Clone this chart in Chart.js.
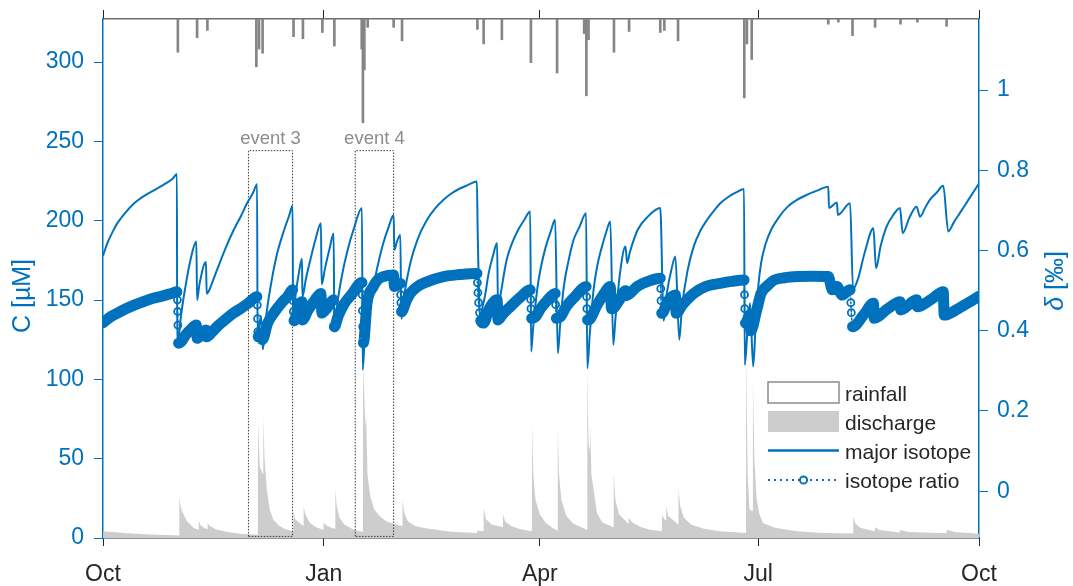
<!DOCTYPE html>
<html>
<head>
<meta charset="utf-8">
<title>Isotope record</title>
<script src="https://cdn.jsdelivr.net/npm/chart.js@4.4.1/dist/chart.umd.min.js"></script>
<style>
  html, body { margin: 0; padding: 0; background: #fff; }
  #wrap { width: 1073px; height: 586px; }
</style>
</head>
<body>
<div id="wrap"><canvas id="myChart" width="1073" height="586"></canvas></div>
<script>
// x values are days after 1 Oct
const xTickDays = [0, 92, 182, 273, 365];
const xTickLabels = ["Oct", "Jan", "Apr", "Jul", "Oct"];
const cTicks = [0, 50, 100, 150, 200, 250, 300];
const deltaTicks = [0, 0.2, 0.4, 0.6, 0.8, 1];

// rainfall, mm (hangs from the top)
const rainDays = [31.2, 39.2, 43.5, 63.9, 65.0, 66.5, 79.4, 83.3, 91.4, 96.4, 107.8, 108.3, 108.9, 110.3, 121.1, 124.6, 156.0, 158.6, 166.2, 178.3, 189.2, 200.5, 201.4, 202.3, 212.9, 219.2, 232.2, 233.9, 239.6, 267.2, 268.3, 270.3, 302.2, 306.4, 312.3, 321.7, 332.3, 339.3, 351.5];
const rainMm = [3.2, 1.8, 1.1, 4.6, 2.9, 3.3, 1.7, 1.9, 1.3, 2.6, 2.9, 10.0, 4.9, 0.8, 0.8, 2.1, 1.0, 2.4, 2.0, 4.2, 5.2, 1.4, 7.4, 2.0, 3.2, 1.2, 1.3, 1.1, 2.1, 7.6, 2.4, 3.9, 0.5, 0.3, 1.6, 0.8, 0.5, 0.3, 0.7];

// discharge
const qDays = [0, 10, 20, 31.7, 31.8, 32.3, 32.9, 35, 37.8, 39.8, 39.9, 40.6, 42.5, 43.5, 43.6, 44.5, 47, 52, 58, 64.5, 64.6, 65.3, 66.7, 66.8, 67.3, 68.3, 69.5, 71, 73.5, 76, 79.3, 79.4, 80, 83.5, 83.6, 84.3, 86, 88.5, 91.8, 91.9, 93, 95.4, 96.7, 96.8, 97.4, 98.5, 100.5, 104.5, 108.3, 108.4, 109.2, 109.5, 109.6, 110.2, 111.4, 113, 115.5, 118, 121, 124.7, 124.8, 125.5, 127, 130, 135, 145, 155.8, 155.9, 158.5, 158.6, 159.5, 162, 166.6, 166.7, 167.5, 170, 174, 178.7, 178.8, 179.3, 180.2, 182, 184.5, 187.8, 189.4, 189.5, 190, 191, 193, 196, 201.7, 201.8, 202.3, 202.9, 203, 203.5, 205.8, 208, 212.7, 212.8, 213.5, 215, 218.9, 219, 220.5, 224, 228, 232.8, 232.9, 233.8, 234.6, 234.7, 235.5, 239.7, 239.8, 240.5, 242, 245, 250, 257, 267.9, 268, 268.6, 269.4, 270.7, 270.8, 271.4, 272.3, 273.5, 275, 280, 289, 300, 312.5, 312.6, 313.3, 315.5, 321.6, 321.7, 323.5, 331.9, 332, 336, 351.4, 351.5, 355, 365];
const qVal = [4.2, 3.0, 2.2, 1.5, 25.6, 20, 16.8, 10.5, 6.3, 5.2, 10.9, 8, 6, 5.6, 9.4, 7.5, 5.5, 3.8, 2.6, 2.0, 73, 45, 40, 78, 50, 30, 18, 11.5, 7.5, 5.5, 4.2, 16.8, 12, 7.5, 19.9, 15, 10, 7, 5.2, 9.8, 8, 6.3, 5.8, 30.9, 20, 13, 8.5, 5.2, 3.8, 112, 75, 70, 80.8, 40, 26, 18, 13.6, 10.5, 9, 7.5, 24.1, 16, 10.5, 7.5, 6, 4, 3.2, 4.5, 4.3, 18.9, 12, 8.5, 6.8, 15, 10.5, 7.5, 5.5, 4.2, 70.8, 40, 24, 15, 9.5, 5.8, 4.8, 69.5, 40, 24, 14, 9, 5.2, 110, 60, 55, 71.4, 40, 15.7, 10, 6.8, 41, 24, 15, 9, 12.6, 10, 7, 5.2, 4.2, 14.7, 12, 11, 19.9, 14, 8.5, 31, 20, 13, 8.5, 6, 4.3, 3.2, 118, 40, 17.8, 17, 98.7, 50, 25, 15, 9.4, 6.5, 4.2, 3.2, 2.8, 13.6, 9.5, 6.5, 4.2, 6.7, 5, 3.5, 5, 3.8, 3, 5.2, 3.8, 2.7];

// major isotope, C in uM
const majorDays = [0, 2, 4, 6, 9, 13, 17, 21, 25, 29, 30.8, 30.9, 31.4, 32.5, 34.3, 36.4, 38.9, 39.2, 40.2, 42.9, 43.2, 44.2, 45.5, 47.5, 51, 54.4, 57.5, 60, 62.5, 64.2, 64.4, 65.8, 66.6, 68, 70, 72.5, 75, 77.5, 79, 79.2, 80, 81.5, 82.9, 83.1, 84.5, 86.5, 88.5, 90.8, 91.1, 92.5, 94.5, 96.1, 96.4, 97.5, 99.5, 102, 104.5, 107.9, 108.2, 109, 110.5, 112.6, 114.5, 116.8, 119, 121.1, 121.4, 122.5, 123.9, 124.3, 125.5, 128, 131, 135, 138.5, 141.9, 145, 148.9, 152, 155.8, 156.1, 157.2, 158.2, 159.2, 160.7, 162.5, 164.2, 164.6, 165.5, 168.2, 170.5, 173, 175.5, 178, 178.4, 179.2, 180.9, 182.5, 184.5, 186.5, 188.4, 189.5, 190.5, 192, 194, 196.1, 198.5, 201.3, 201.8, 202.8, 204.4, 206, 207.9, 209.5, 211.4, 212.6, 213.5, 215.5, 217.7, 218.4, 219.5, 222.8, 227, 232.2, 233.6, 235, 236.8, 238.5, 240.1, 241.2, 243.5, 246.1, 249, 251.7, 254.3, 257.2, 260.5, 264, 267.1, 267.4, 268.5, 269.6, 270.9, 271.8, 273, 274.2, 276, 278.4, 281.5, 285.3, 289, 293.2, 297.5, 302.2, 302.5, 305.8, 306.2, 311.3, 312.5, 314.5, 317.5, 321, 322.1, 324, 326.5, 329, 332.1, 333.2, 336, 339, 340.4, 342.5, 344.5, 347.5, 350.1, 352.2, 354.5, 357, 360.5, 365];
const majorC = [178, 186.5, 193, 198.5, 204.5, 211, 215.5, 219, 222.5, 226.5, 229.5, 121, 124, 140, 158, 175, 187, 150, 160, 174, 154, 156, 161, 169, 182.5, 194, 203, 211, 217.5, 223, 127, 140, 119, 140, 160, 179, 192, 203, 209.4, 134, 150, 166, 176, 152, 163, 176, 188, 198.5, 160, 170, 183, 192, 130, 146, 165, 182, 195, 208, 106, 125, 145, 158.5, 172, 186, 196, 203.7, 181.7, 187, 191, 138, 153, 173, 188, 200.6, 208, 213.2, 217, 220.5, 222.5, 224.7, 195, 138, 146, 153, 167, 178, 186, 144, 152, 175.4, 186, 194.3, 200.5, 205.8, 117.6, 132, 156.5, 171, 183.7, 193, 200.6, 116.6, 135, 158.5, 175, 188, 196, 204.8, 107.1, 128, 156.5, 172, 183.7, 192, 199.5, 121.8, 138, 168, 183.7, 173.3, 180, 194.3, 202.6, 208, 137, 155, 169, 177.4, 125, 145, 168, 183.7, 194, 200.6, 205.8, 211, 215, 218, 220, 109.2, 130, 148, 108.1, 130, 158, 173.3, 185, 194.3, 202, 208.9, 213, 216.3, 219, 221.5, 208, 211.5, 203.7, 211.1, 157, 163, 180.6, 195.3, 170.1, 184, 196.3, 203, 208, 192.2, 202, 208.9, 202.6, 208, 213.2, 218, 222, 193.2, 199, 204.8, 213, 223.5];

// isotope ratio, delta in permil
const ratioDays = [0, 3, 6, 9.5, 13, 17, 21, 25, 28.5, 30.8, 31.0, 31.1, 31.2, 31.5, 32.5, 34.5, 36.5, 38.9, 39.2, 41, 42.9, 43.2, 45.5, 47.5, 51, 54.4, 58, 61, 64.1, 64.3, 64.4, 64.5, 64.7, 65.8, 66.4, 68.6, 71.5, 74.2, 77, 79.0, 79.2, 79.3, 79.6, 81, 82.9, 83.1, 85.5, 88, 90.8, 91.0, 91.2, 93.5, 96.1, 96.4, 98, 100.5, 103.5, 107.9, 108.0, 108.1, 108.2, 108.5, 110, 112.6, 114.5, 116.8, 121.1, 121.4, 123.9, 124.0, 124.1, 124.4, 126.3, 128, 131, 135, 141.9, 148.5, 155.8, 156.0, 156.2, 156.5, 156.9, 157.4, 158.6, 160.7, 164.2, 164.6, 166.5, 169.7, 174, 178, 178.2, 178.3, 178.6, 180.1, 182.3, 185, 188.4, 188.6, 188.9, 190.5, 193, 196.5, 201.3, 201.5, 201.6, 201.9, 203, 205.5, 208.5, 211.4, 211.6, 211.9, 213, 215.5, 217.7, 218.1, 222.5, 227, 232.2, 232.4, 232.5, 232.8, 235.5, 238.5, 238.8, 241.5, 246.1, 251, 257.2, 262, 267.1, 267.3, 267.4, 267.7, 269.6, 269.9, 272.5, 274.2, 277, 279.7, 284, 289.4, 296, 302.2, 303.9, 305.8, 308, 311.3, 311.6, 311.8, 312.3, 317, 321, 321.4, 327, 332.1, 332.4, 339, 339.3, 345, 350.1, 350.5, 355.5, 358.9, 362, 365];
const ratioDelta = [0.420, 0.434, 0.444, 0.455, 0.464, 0.473, 0.481, 0.487, 0.493, 0.497, 0.477, 0.448, 0.414, 0.369, 0.372, 0.390, 0.403, 0.414, 0.381, 0.390, 0.402, 0.385, 0.397, 0.410, 0.428, 0.444, 0.458, 0.471, 0.485, 0.464, 0.430, 0.398, 0.385, 0.395, 0.378, 0.419, 0.447, 0.468, 0.486, 0.502, 0.475, 0.448, 0.425, 0.448, 0.4725, 0.427, 0.452, 0.474, 0.493, 0.470, 0.444, 0.458, 0.477, 0.410, 0.437, 0.467, 0.490, 0.520, 0.490, 0.450, 0.410, 0.370, 0.4686, 0.510, 0.527, 0.535, 0.539, 0.510, 0.518, 0.490, 0.470, 0.4476, 0.474, 0.493, 0.510, 0.522, 0.535, 0.540, 0.543, 0.520, 0.495, 0.470, 0.445, 0.425, 0.419, 0.452, 0.477, 0.427, 0.441, 0.460, 0.484, 0.502, 0.478, 0.455, 0.431, 0.434, 0.455, 0.475, 0.493, 0.465, 0.431, 0.434, 0.460, 0.484, 0.510, 0.485, 0.455, 0.427, 0.430, 0.460, 0.490, 0.510, 0.480, 0.455, 0.458, 0.480, 0.500, 0.488, 0.510, 0.523, 0.531, 0.505, 0.475, 0.4436, 0.475, 0.489, 0.4436, 0.465, 0.493, 0.510, 0.518, 0.523, 0.5265, 0.490, 0.455, 0.419, 0.440, 0.400, 0.455, 0.493, 0.513, 0.5265, 0.532, 0.535, 0.536, 0.535, 0.502, 0.510, 0.489, 0.502, 0.470, 0.445, 0.410, 0.440, 0.4686, 0.431, 0.455, 0.4725, 0.452, 0.477, 0.460, 0.478, 0.497, 0.439, 0.452, 0.464, 0.475, 0.486];

// dotted event windows
const eventLabels = ["event 3", "event 4"];
const eventStart = [60.6, 105.1];
const eventEnd = [79.0, 121.1];
const eventTop = 244.2;
const eventBottom = 1.0;

const blue = "#0072BD";
const font = '"Liberation Sans", Arial, Helvetica, sans-serif';

const xy = (xs, ys) => xs.map((x, i) => ({ x: x, y: ys[i] }));

// big, fast falls of the ratio show up as separate circles on a thin dotted line
function thinFalls(days, vals, maxStep, minFall) {
  const thin = new Array(days.length).fill(false);
  let i = 0;
  while (i < days.length - 1) {
    let j = i;
    while (j < days.length - 1 && days[j + 1] - days[j] < maxStep && vals[j + 1] < vals[j]) j++;
    if (j > i) {
      if (vals[i] - vals[j] > minFall) {
        for (let k = i; k < j; k++) thin[k] = true;
      }
      i = j;
    } else {
      i++;
    }
  }
  return thin;
}
const ratioThin = thinFalls(ratioDays, ratioDelta, 0.55, 0.06);

const overlay = {
  id: "overlay",
  afterDraw(chart) {
    const { ctx, scales } = chart;
    const sx = scales.x;
    const sy = scales.y;
    ctx.save();

    // event labels
    ctx.font = "18.5px " + font;
    ctx.fillStyle = "#8c8c8c";
    ctx.textAlign = "center";
    ctx.textBaseline = "alphabetic";
    eventLabels.forEach((t, i) => {
      const cx = sx.getPixelForValue((eventStart[i] + eventEnd[i]) / 2);
      ctx.fillText(t, cx, sy.getPixelForValue(eventTop) - 7);
    });

    // left title
    ctx.save();
    ctx.translate(23.5, 296);
    ctx.rotate(-Math.PI / 2);
    ctx.font = "25px " + font;
    ctx.fillStyle = blue;
    ctx.textAlign = "center";
    ctx.textBaseline = "middle";
    ctx.fillText("C [µM]", 0, 0);
    ctx.restore();

    // right title, italic delta
    ctx.save();
    ctx.translate(1056, 281);
    ctx.rotate(-Math.PI / 2);
    ctx.fillStyle = blue;
    ctx.textBaseline = "middle";
    ctx.textAlign = "left";
    ctx.font = "italic 25px " + font;
    const w1 = ctx.measureText("δ").width;
    ctx.font = "25px " + font;
    const w2 = ctx.measureText(" [‰]").width;
    const px = -(w1 + w2) / 2;
    ctx.font = "italic 25px " + font;
    ctx.fillText("δ", px, 0);
    ctx.font = "25px " + font;
    ctx.fillText(" [‰]", px + w1, 0);
    ctx.restore();

    // legend
    const lx = 768, lw = 71;
    ctx.fillStyle = "#fff";
    ctx.strokeStyle = "#8c8c8c";
    ctx.lineWidth = 1.5;
    ctx.fillRect(lx, 382, lw, 21);
    ctx.strokeRect(lx, 382, lw, 21);
    ctx.fillStyle = "#cdcdcd";
    ctx.fillRect(lx, 411, lw, 21);
    ctx.strokeStyle = blue;
    ctx.lineWidth = 2.5;
    ctx.beginPath();
    ctx.moveTo(lx, 450.5);
    ctx.lineTo(lx + lw, 450.5);
    ctx.stroke();
    ctx.lineWidth = 2;
    ctx.setLineDash([2, 4]);
    ctx.beginPath();
    ctx.moveTo(lx, 480);
    ctx.lineTo(lx + lw, 480);
    ctx.stroke();
    ctx.setLineDash([]);
    ctx.fillStyle = "#fff";
    ctx.beginPath();
    ctx.arc(lx + lw / 2, 480, 3.6, 0, Math.PI * 2);
    ctx.fill();
    ctx.stroke();

    ctx.font = "21px " + font;
    ctx.fillStyle = "#262626";
    ctx.textAlign = "left";
    ctx.textBaseline = "alphabetic";
    const names = ["rainfall", "discharge", "major isotope", "isotope ratio"];
    const bases = [400.7, 429.7, 458.7, 487.5];
    names.forEach((n, i) => ctx.fillText(n, 845, bases[i]));

    ctx.restore();
  },
};

function init() {
  const ctx = document.getElementById("myChart");

  Chart.defaults.font.family = font;

  const eventSets = eventStart.map((s, i) => ({
    type: "line",
    label: eventLabels[i],
    data: xy(
      [s, s, eventEnd[i], eventEnd[i], s],
      [eventBottom, eventTop, eventTop, eventBottom, eventBottom]
    ),
    xAxisID: "x",
    yAxisID: "y",
    borderColor: "#3a3a3a",
    borderWidth: 1,
    borderDash: [1.5, 1.5],
    pointRadius: 0,
    fill: false,
    tension: 0,
    order: 3,
  }));

  // fixed box sizes, no extra label padding
  const fixWidth = (w) => (s) => {
    s.width = w;
    s.paddingTop = 0;
    s.paddingBottom = 0;
  };

  new Chart(ctx, {
    type: "line",
    data: {
      datasets: [
        {
          type: "line",
          label: "isotope ratio",
          data: xy(ratioDays, ratioDelta),
          xAxisID: "x",
          yAxisID: "y1",
          borderColor: blue,
          borderWidth: 11,
          borderCapStyle: "round",
          borderJoinStyle: "round",
          cubicInterpolationMode: "monotone",
          pointRadius: 3.5,
          pointBorderWidth: 1.8,
          pointBackgroundColor: "rgba(255,255,255,0)",
          pointBorderColor: blue,
          fill: false,
          segment: {
            borderWidth: (c) => (ratioThin[c.p0DataIndex] ? 1.5 : undefined),
            borderDash: (c) => (ratioThin[c.p0DataIndex] ? [2, 2] : undefined),
          },
          order: 1,
        },
        {
          type: "line",
          label: "major isotope",
          data: xy(majorDays, majorC),
          xAxisID: "x",
          yAxisID: "y",
          borderColor: blue,
          borderWidth: 2,
          pointRadius: 0,
          cubicInterpolationMode: "monotone",
          fill: false,
          order: 2,
        },
        ...eventSets,
        {
          type: "bar",
          label: "rainfall",
          data: xy(rainDays, rainMm),
          xAxisID: "x",
          yAxisID: "yRain",
          backgroundColor: "#858585",
          borderWidth: 0,
          barThickness: 2,
          grouped: false,
          order: 4,
        },
        {
          type: "line",
          label: "discharge",
          data: xy(qDays, qVal),
          xAxisID: "x",
          yAxisID: "yQ",
          fill: "origin",
          backgroundColor: "#cdcdcd",
          borderColor: "rgba(0,0,0,0)",
          borderWidth: 0,
          pointRadius: 0,
          tension: 0,
          order: 5,
        },
      ],
    },
    options: {
      responsive: false,
      animation: false,
      events: [],
      layout: { padding: 0 },
      plugins: {
        legend: { display: false },
        tooltip: { enabled: false },
      },
      scales: {
        x: {
          type: "linear",
          position: "bottom",
          min: 0,
          max: 365,
          offset: false,
          z: 1,
          afterBuildTicks: (s) => {
            s.ticks = xTickDays.map((v) => ({ value: v }));
          },
          afterFit: (s) => {
            s.height = 48;
          },
          ticks: {
            callback: (v, i) => xTickLabels[i],
            color: "#262626",
            font: { size: 23 },
            padding: 15,
            maxRotation: 0,
            autoSkip: false,
          },
          grid: { drawOnChartArea: false, offset: false, tickLength: 8, color: "#262626" },
          border: { color: "#262626", width: 1.5 },
        },
        xTop: {
          type: "linear",
          position: "top",
          min: 0,
          max: 365,
          offset: false,
          afterBuildTicks: (s) => {
            s.ticks = xTickDays.map((v) => ({ value: v }));
          },
          afterFit: (s) => {
            s.height = 19;
          },
          ticks: { display: false },
          grid: { drawOnChartArea: false, offset: false, tickLength: 9, color: "#262626" },
          border: { color: "#6e6e6e", width: 1.5 },
        },
        y: {
          type: "linear",
          position: "left",
          min: 0,
          max: 327.2,
          z: 1,
          afterBuildTicks: (s) => {
            s.ticks = cTicks.map((v) => ({ value: v }));
          },
          afterFit: fixWidth(103),
          ticks: { color: blue, font: { size: 23 }, padding: 10 },
          grid: { drawOnChartArea: false, tickLength: 9, color: blue },
          border: { color: blue, width: 1.5 },
        },
        y1: {
          type: "linear",
          position: "right",
          min: -0.1168,
          max: 1.1773,
          z: 1,
          afterBuildTicks: (s) => {
            s.ticks = deltaTicks.map((v) => ({ value: v }));
          },
          afterFit: fixWidth(94),
          ticks: {
            color: blue,
            font: { size: 23 },
            padding: 9,
            callback: (v) => String(v),
          },
          grid: { drawOnChartArea: false, tickLength: 9, color: blue },
          border: { color: blue, width: 1.5 },
        },
        yRain: { display: false, reverse: true, min: 0, max: 50 },
        yQ: { display: false, min: 0, max: 327.2 },
      },
    },
    plugins: [overlay],
  });
}

init();
</script>
</body>
</html>
